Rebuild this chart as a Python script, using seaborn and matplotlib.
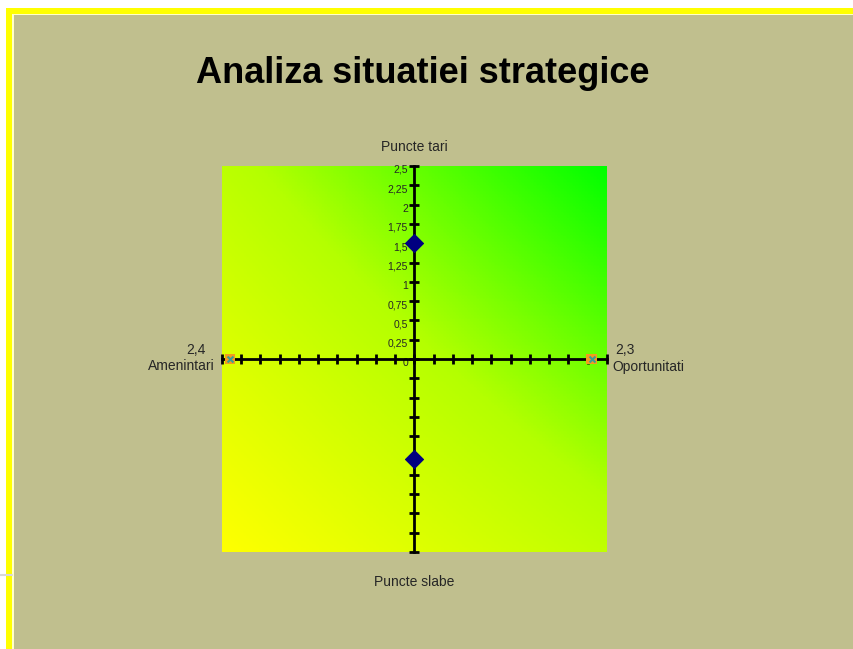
import numpy as np
import matplotlib
matplotlib.use("Agg")
import matplotlib.pyplot as plt
import matplotlib.transforms as mtransforms
import seaborn as sns
from matplotlib.patches import Rectangle
from matplotlib.colors import LinearSegmentedColormap
from matplotlib.lines import Line2D

# data
axis_names = ["Puncte tari", "Puncte slabe"]
diamond_x = [0, 0]
diamond_y = [1.5, -1.3]
square_x = [-2.4, 2.3]
square_y = [0, 0]
square_values = ["2,4", "2,3"]
square_names = ["Amenintari", "Oportunitati"]
tick_values = np.arange(-2.5, 2.51, 0.25)

W, H = 854, 649

sns.set_style("white")
plt.rcParams["font.family"] = ["Liberation Sans", "DejaVu Sans"]

fig = plt.figure(figsize=(W / 100, H / 100), dpi=100)
fig.patch.set_facecolor("white")

# frame: yellow band, pale line, olive panel
fig.patches.append(Rectangle((6 / W, 0), 1, 1 - 8 / H, transform=fig.transFigure,
                             facecolor="#FFFF00", edgecolor="none", zorder=-5))
fig.patches.append(Rectangle((12 / W, 0), 1, 1 - 14 / H, transform=fig.transFigure,
                             facecolor="#FFFFC8", edgecolor="none", zorder=-4))
fig.patches.append(Rectangle((14 / W, 0), 1, 1 - 15 / H, transform=fig.transFigure,
                             facecolor="#C0BF8E", edgecolor="none", zorder=-3))
fig.lines.append(Line2D([0, 12 / W], [1 - 575 / H, 1 - 575 / H], transform=fig.transFigure,
                        color="#D8D8D8", lw=1.5, zorder=-2))

fig.text(423 / W, 1 - 83 / H, "Analiza situatiei strategice", ha="center", va="baseline",
         fontsize=26, fontweight="bold", color="black")

ax = fig.add_axes([222 / W, (H - 552) / H, 385 / W, 386 / H])

# gradient background: yellow bottom-left to green top-right
cmap = LinearSegmentedColormap.from_list("yg", ["#FFFF00", "#B4FF00", "#00FF00"])
corners = np.array([[0.45, 1.0], [0.0, 0.42]])
ax.imshow(corners, extent=(-5, 5, -5, 5), cmap=cmap, vmin=0, vmax=1,
          interpolation="bilinear", aspect="auto", zorder=0)
ax.set_xlim(-2.5, 2.5)
ax.set_ylim(-2.5, 2.5)

for s in ["top", "right"]:
    ax.spines[s].set_visible(False)
ax.spines["left"].set_position("zero")
ax.spines["bottom"].set_position("zero")
for s in ["left", "bottom"]:
    ax.spines[s].set_linewidth(2)
    ax.spines[s].set_color("black")
    ax.spines[s].set_zorder(2)

ax.set_xticks(tick_values)
ax.set_xticklabels([])
ax.set_yticks(tick_values)
ylabels = []
for v in tick_values:
    if v > 0:
        ylabels.append(f"{v:g}".replace(".", ","))
    elif v == 0:
        ylabels.append("0")
    else:
        ylabels.append("")
ax.set_yticklabels(ylabels)
ax.tick_params(axis="both", direction="inout", length=7.5, width=2, color="black",
               labelsize=7.5, pad=1, bottom=True, left=True)
shift = mtransforms.ScaledTranslation(0, -3 / 100, fig.dpi_scale_trans)
for lab in ax.get_yticklabels():
    lab.set_transform(lab.get_transform() + shift)

sns.scatterplot(x=diamond_x, y=diamond_y, marker="D", s=85, color="#000080",
                edgecolor="#000080", ax=ax, zorder=5, clip_on=False)
sns.scatterplot(x=square_x, y=square_y, marker="s", s=55, color="#F39C1E",
                edgecolor="none", ax=ax, zorder=5, clip_on=False)
sns.scatterplot(x=square_x, y=square_y, marker="x", s=18, color="#3A9E96",
                linewidth=1.5, ax=ax, zorder=6, clip_on=False)

ax.annotate(axis_names[0], xy=(0.5, 1), xycoords="axes fraction", xytext=(0, 13.7),
            textcoords="offset points", ha="center", va="center", fontsize=10)
ax.annotate(axis_names[1], xy=(0.5, 0), xycoords="axes fraction", xytext=(0, -21.6),
            textcoords="offset points", ha="center", va="center", fontsize=10)

ax.annotate(square_values[0], xy=(0, 0.5), xycoords="axes fraction",
            xytext=(-19, 6.5), textcoords="offset points", ha="center", va="center", fontsize=10)
ax.annotate(square_names[0], xy=(0, 0.5), xycoords="axes fraction",
            xytext=(-5.5, -5), textcoords="offset points", ha="right", va="center", fontsize=10)
ax.annotate(square_values[1], xy=(1, 0.5), xycoords="axes fraction",
            xytext=(6, 6.5), textcoords="offset points", ha="left", va="center", fontsize=10)
ax.annotate(square_names[1], xy=(1, 0.5), xycoords="axes fraction",
            xytext=(3.6, -5.5), textcoords="offset points", ha="left", va="center", fontsize=10)

ax.set_facecolor("none")
fig.savefig("out.png", dpi=100, facecolor=fig.get_facecolor())
